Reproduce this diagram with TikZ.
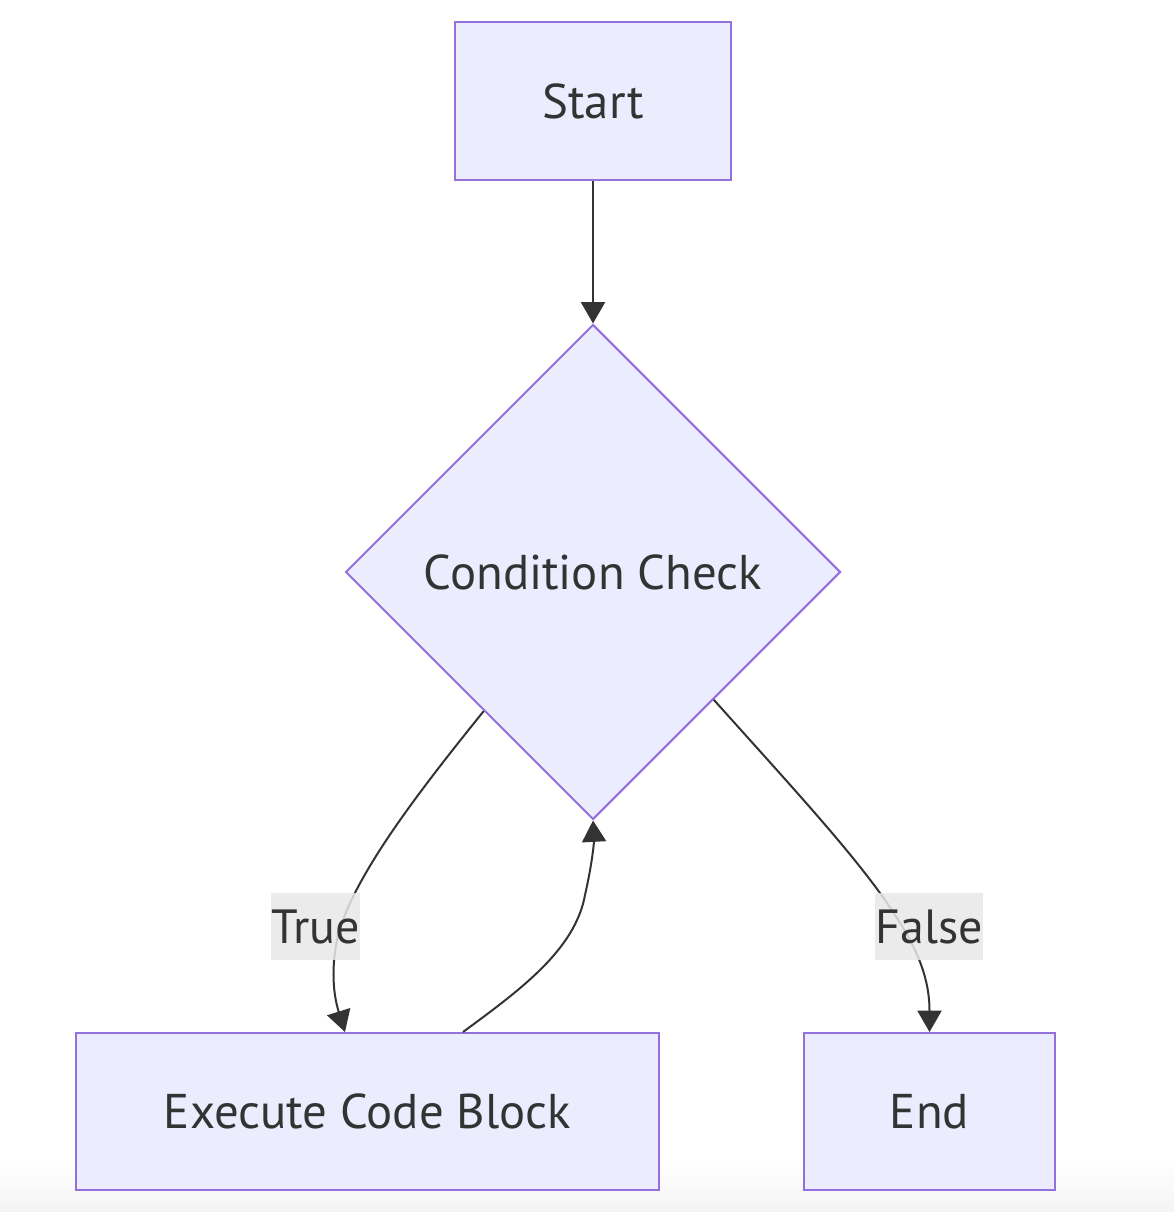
\documentclass[tikz,border=0pt]{standalone}
\usepackage{fontspec}
\setmainfont{PT Sans}
\usetikzlibrary{shapes.geometric,arrows.meta,calc}
\definecolor{nodefill}{HTML}{ECECFF}
\definecolor{nodeborder}{HTML}{9370DB}
\definecolor{txt}{HTML}{333333}
\definecolor{edgecol}{HTML}{333333}
\definecolor{lblbg}{HTML}{E8E8E8}
\definecolor{bottomgray}{HTML}{F4F4F4}
\tikzset{
  procbox/.style={draw=nodeborder, fill=nodefill, line width=1.5pt, text=txt, inner sep=0pt, font=\fontsize{36.6}{42}\selectfont},
  decision/.style={diamond, draw=nodeborder, fill=nodefill, line width=1.5pt, text=txt, inner sep=0pt, font=\fontsize{36.6}{42}\selectfont},
  edgelabel/.style={fill=lblbg, fill opacity=0.85, text opacity=1, text=txt, inner sep=0pt, minimum height=50.25pt, font=\fontsize{36}{42}\selectfont},
  flow/.style={draw=edgecol, line width=1.5pt, -{Triangle[length=16pt,width=18pt]}}
}
\begin{document}
\begin{tikzpicture}[x=0.75pt,y=-0.75pt]
\useasboundingbox (0,0) rectangle (1174,1212);
\shade[top color=white, bottom color=bottomgray] (0,1160) rectangle (1174,1212);

\node[procbox, minimum width=207pt, minimum height=118.5pt] (S) at (593,101) {Start};
\node[decision, minimum width=371.25pt, minimum height=371.25pt] (D) at (593,572) {Condition Check};
\node[procbox, minimum width=437.25pt, minimum height=117.75pt] (E) at (367.5,1111.5) {Execute Code Block};
\node[procbox, minimum width=188.25pt, minimum height=117.75pt] (N) at (929.5,1111.5) {End};

\coordinate (tS) at ($(D.west)!0.56!(D.south)$);
\coordinate (fS) at ($(D.east)!0.514!(D.south)$);
\coordinate (tE) at ($(E.north)+(-22.5,0)$);
\coordinate (rS) at ($(E.north)+(95.5,0)$);
\coordinate (t1) at (337,940);
\coordinate (r1) at (585,895);
\coordinate (f1) at (895,915);

\draw[flow] (S.south) -- (D.north);
\draw[flow] (tS) .. controls (420,790) and (350,880) .. (t1) .. controls (330,975) and (335,1000) .. (tE);
\draw[flow] (rS) .. controls (520,990) and (575,950) .. (r1) .. controls (593,860) and (594,840) .. (D.south);
\draw[flow] (fS) .. controls (790,785) and (860,860) .. (f1) .. controls (925,960) and (929.5,990) .. (N.north);

\node[edgelabel, minimum width=66.75pt] (LT) at (315.5,926.5) {True};
\node[edgelabel, minimum width=79.5pt] (LF) at (929,926.5) {False};
\end{tikzpicture}
\end{document}
